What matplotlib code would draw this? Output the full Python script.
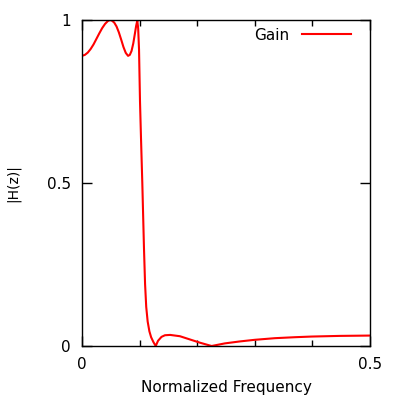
import numpy as np
import matplotlib
matplotlib.use("Agg")
import matplotlib.pyplot as plt
from matplotlib.ticker import MultipleLocator

# magnitude response
freq = [0.0, 0.005, 0.010, 0.015, 0.020, 0.025, 0.030, 0.035, 0.040, 0.045,
        0.0486, 0.052, 0.056, 0.060, 0.064, 0.068, 0.072, 0.076, 0.080,
        0.083, 0.086, 0.089, 0.092, 0.094, 0.096, 0.0975, 0.099, 0.1007,
        0.1024, 0.1047, 0.1076, 0.1095, 0.1115, 0.1140, 0.1170, 0.1200,
        0.1240, 0.1280, 0.1320, 0.1380, 0.1440, 0.1530, 0.1700, 0.1875,
        0.2050, 0.2250, 0.2480, 0.2740, 0.3000, 0.3350, 0.3700, 0.3990,
        0.4480, 0.5000]
gain = [0.890, 0.893, 0.900, 0.911, 0.925, 0.942, 0.959, 0.975, 0.988, 0.997,
        1.000, 0.998, 0.992, 0.980, 0.962, 0.940, 0.917, 0.899, 0.890,
        0.893, 0.905, 0.928, 0.960, 0.982, 0.998, 0.975, 0.910, 0.750,
        0.640, 0.500, 0.300, 0.190, 0.120, 0.075, 0.045, 0.027,
        0.012, 0.000, 0.016, 0.028, 0.033, 0.034, 0.030, 0.020,
        0.010, 0.000, 0.008, 0.014, 0.019, 0.024, 0.027, 0.029,
        0.031, 0.032]

fig = plt.figure(figsize=(4, 4), dpi=100)
ax = fig.add_axes([0.205, 0.135, 0.72, 0.815])

ax.plot(freq, gain, color="red", linewidth=1.5, label="Gain")

ax.set_xlim(0, 0.5)
ax.set_ylim(0, 1)
ax.set_xticks([0, 0.5])
ax.set_xticklabels(["0", "0.5"])
ax.set_yticks([0, 0.5, 1])
ax.set_yticklabels(["0", "0.5", "1"])
ax.xaxis.set_minor_locator(MultipleLocator(0.1))
ax.tick_params(which="major", direction="in", length=7, width=1,
               top=True, right=True, labelsize=11, pad=8)
ax.tick_params(which="minor", direction="in", length=4, width=1,
               top=True, right=True)
for s in ax.spines.values():
    s.set_linewidth(1)

ax.set_xlabel("Normalized Frequency", fontsize=11, labelpad=6)
ax.set_ylabel("|H(z)|", fontsize=10, labelpad=19)

ax.legend(loc="upper right", frameon=False, markerfirst=False,
          fontsize=11, handlelength=3.2, borderaxespad=0.1,
          bbox_to_anchor=(0.96, 1.0))

fig.savefig("out.png", dpi=100)
